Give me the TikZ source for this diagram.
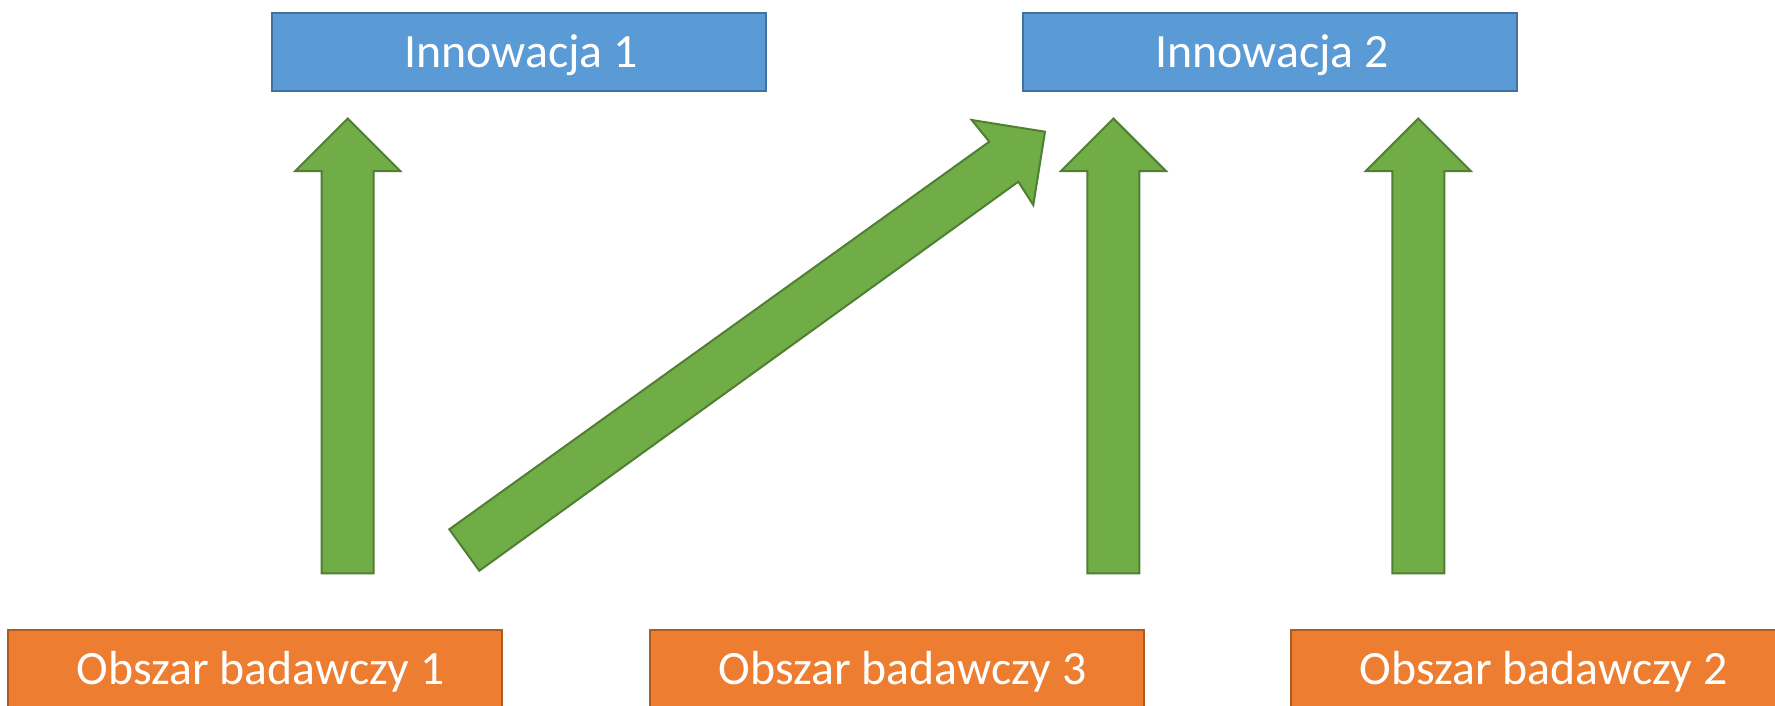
\documentclass[tikz,border=0pt]{standalone}
\usepackage{fontspec}
\setmainfont{Carlito}
\definecolor{bluefill}{HTML}{5B9BD5}
\definecolor{blueline}{HTML}{41719C}
\definecolor{orangefill}{HTML}{ED7D31}
\definecolor{orangeline}{HTML}{AE5A21}
\definecolor{greenfill}{HTML}{70AD47}
\definecolor{greenline}{HTML}{507E32}
\tikzset{
  box/.style={rectangle, inner sep=0pt, minimum width=494pt, minimum height=78.5pt,
    line width=2pt, text=white, font=\fontsize{47.8}{52}\selectfont,
    text height=30.8pt, text depth=0pt},
  innobox/.style={box, fill=bluefill, draw=blueline},
  areabox/.style={box, fill=orangefill, draw=orangeline},
  blockarrow/.style={fill=greenfill, draw=greenline, line width=2pt, line join=miter}
}
\begin{document}
\begin{tikzpicture}[x=1pt,y=-1pt]
\useasboundingbox (0,0) rectangle (1775,705);
\clip (0,0) rectangle (1775,705);
\node[innobox] (i1) at (519,51.75) {\hspace*{4pt}Innowacja 1};
\node[innobox] (i2) at (1270,51.75) {\hspace*{4pt}Innowacja 2};
\node[areabox] (o1) at (255,669.25) {\hspace*{11pt}Obszar badawczy 1};
\node[areabox] (o3) at (897,669.25) {\hspace*{11pt}Obszar badawczy 3};
\node[areabox] (o2) at (1538,669.25) {\hspace*{11pt}Obszar badawczy 2};
% vertical block arrows
\foreach \cx/\nm in {347.7/a1, 1113.4/a3, 1418.3/a4}{
  \draw[blockarrow] (\cx-26,573.3) -- (\cx-26,171) -- (\cx-52.5,171) -- (\cx,118.5)
    -- (\cx+52.5,171) -- (\cx+26,171) -- (\cx+26,573.3) -- cycle;
}
% diagonal block arrow
\draw[blockarrow] (449.3,529.3) -- (989.3,141.7) -- (971.7,120) -- (1045,131.7)
  -- (1033.3,205) -- (1018.3,181.7) -- (479.3,570.7) -- cycle;
\end{tikzpicture}
\end{document}
